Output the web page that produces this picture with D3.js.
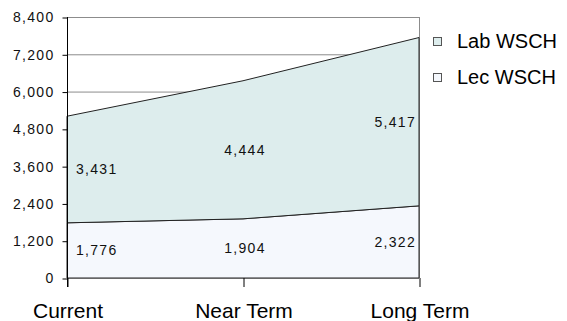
<!DOCTYPE html>
<html>
<head>
<meta charset="utf-8">
<script src="https://cdn.jsdelivr.net/npm/d3@7/dist/d3.min.js"></script>
<style>
  html, body { margin: 0; padding: 0; background: #fff; }
  svg { display: block; font-family: "Liberation Sans", Arial, sans-serif; }
</style>
</head>
<body>
<svg id="chart" width="567" height="321"></svg>
<script>
// Weekly student contact hours by planning horizon
const categories = ["Current", "Near Term", "Long Term"];
const lecWSCH = [1776, 1904, 2322];
const labWSCH = [3431, 4444, 5417];
const yTicks = [0, 1200, 2400, 3600, 4800, 6000, 7200, 8400];
const seriesNames = ["Lab WSCH", "Lec WSCH"];

const colors = { "Lab WSCH": "#ddeded", "Lec WSCH": "#f5f8fd" };

const svg = d3.select("#chart");
const plotLeft = 67, plotRight = 419, plotTop = 17, plotBottom = 278;

const x = d3.scalePoint().domain(categories).range([plotLeft, plotRight]);
const y = d3.scaleLinear().domain([0, 8400]).range([plotBottom, plotTop]);

const rows = categories.map((c, i) => ({ cat: c, "Lec WSCH": lecWSCH[i], "Lab WSCH": labWSCH[i] }));
const stacked = d3.stack().keys(["Lec WSCH", "Lab WSCH"])(rows);

// gridlines
svg.append("g").selectAll("line")
  .data(yTicks.filter(d => d > 0))
  .join("line")
  .attr("x1", plotLeft).attr("x2", plotRight)
  .attr("y1", d => y(d) + 0.5).attr("y2", d => y(d) + 0.5)
  .attr("stroke", "#8c8c8c").attr("stroke-width", 1);

// right border of plot area
svg.append("line")
  .attr("x1", plotRight + 0.5).attr("x2", plotRight + 0.5)
  .attr("y1", plotTop).attr("y2", plotBottom)
  .attr("stroke", "#8c8c8c");

// stacked areas
const area = d3.area()
  .x(d => x(d.data.cat))
  .y0(d => y(d[0]))
  .y1(d => y(d[1]));

svg.append("g").selectAll("path")
  .data(stacked)
  .join("path")
  .attr("d", area)
  .attr("fill", d => colors[d.key])
  .attr("stroke", "#222")
  .attr("stroke-width", 1);

// baseline
svg.append("line")
  .attr("x1", plotLeft).attr("x2", plotRight)
  .attr("y1", plotBottom + 0.5).attr("y2", plotBottom + 0.5)
  .attr("stroke", "#666");

// y axis
const yAxis = d3.axisLeft(y).tickValues(yTicks).tickFormat(d3.format(",")).tickSize(5).tickPadding(8);
const gy = svg.append("g").attr("transform", `translate(${plotLeft + 0.5},0.5)`).call(yAxis);
gy.select(".domain").remove();
gy.selectAll("line").attr("stroke", "#000");
gy.selectAll("text").attr("font-size", 14).attr("letter-spacing", 1.3).attr("fill", "#111")
  .attr("font-family", "Liberation Sans, Arial, sans-serif");
svg.append("line")
  .attr("x1", plotLeft + 0.5).attr("x2", plotLeft + 0.5)
  .attr("y1", plotTop).attr("y2", plotBottom + 9)
  .attr("stroke", "#000");

// x axis ticks and labels
const xAxis = d3.axisBottom(x).tickSize(9).tickPadding(16);
const gx = svg.append("g").attr("transform", `translate(0.5,${plotBottom})`).call(xAxis);
gx.select(".domain").remove();
gx.selectAll("line").attr("stroke", "#000");
gx.selectAll("text").attr("font-size", 21).attr("fill", "#000")
  .attr("font-family", "Liberation Sans, Arial, sans-serif");

// data labels at the middle of each band
const anchors = ["start", "middle", "end"];
const dx = [9, 2, -3];
stacked.forEach(s => {
  svg.append("g").selectAll("text")
    .data(s)
    .join("text")
    .attr("x", (d, i) => x(d.data.cat) + dx[i])
    .attr("y", d => y((d[0] + d[1]) / 2))
    .attr("dy", "0.35em")
    .attr("text-anchor", (d, i) => anchors[i])
    .attr("font-size", 14)
    .attr("letter-spacing", 1.3)
    .attr("fill", "#111")
    .text(d => d3.format(",")(d[1] - d[0]));
});

// legend
const legend = svg.append("g").selectAll("g")
  .data(seriesNames)
  .join("g")
  .attr("transform", (d, i) => `translate(433,${37 + i * 36})`);
legend.append("rect")
  .attr("x", 0.5).attr("y", 0.5).attr("width", 8).attr("height", 8)
  .attr("fill", d => colors[d]).attr("stroke", "#555");
legend.append("text")
  .attr("x", 24).attr("y", 4).attr("dy", "0.35em")
  .attr("font-size", 20).attr("fill", "#000")
  .text(d => d);
</script>
</body>
</html>
